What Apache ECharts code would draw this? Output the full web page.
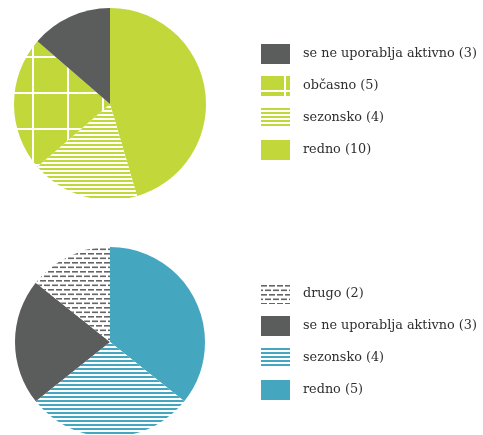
<!DOCTYPE html>
<html><head><meta charset="utf-8">
<script src="https://cdn.jsdelivr.net/npm/echarts@6/dist/echarts.min.js"></script>
<style>html,body{margin:0;padding:0;background:#fff}#c{width:483px;height:435px}</style>
</head><body><div id="c"></div>
<script>
// Top pie
const topNames = ['redno (10)', 'sezonsko (4)', 'občasno (5)', 'se ne uporablja aktivno (3)'];
const topValues = [10, 4, 5, 3];
const topLegendOrder = ['se ne uporablja aktivno (3)', 'občasno (5)', 'sezonsko (4)', 'redno (10)'];
// Bottom pie (zero-width space keeps names distinct from the top pie)
const ZW = '\u200b';
const botNames = ['redno (5)', 'sezonsko (4)' + ZW, 'se ne uporablja aktivno (3)' + ZW, 'drugo (2)'];
const botValues = [5, 4, 3, 2];
const botLegendOrder = ['drugo (2)', 'se ne uporablja aktivno (3)' + ZW, 'sezonsko (4)' + ZW, 'redno (5)'];

const GREEN = '#c1d73a', GRAY = '#5b5c5c', TEAL = '#45a6c0';

function mk(w, h, draw) {
  const c = document.createElement('canvas'); c.width = w; c.height = h;
  const ctx = c.getContext('2d'); draw(ctx); return c;
}
const gridPat = mk(35, 36, ctx => {
  ctx.fillStyle = GREEN; ctx.fillRect(0, 0, 35, 36);
  ctx.fillStyle = '#fff'; ctx.fillRect(32, 0, 2, 36); ctx.fillRect(0, 20, 35, 2);
});
const gridIcon = mk(29, 20, ctx => {
  ctx.fillStyle = GREEN; ctx.fillRect(0, 0, 29, 20);
  ctx.fillStyle = '#fff'; ctx.fillRect(23, 0, 2, 20); ctx.fillRect(0, 14, 29, 2);
});
const greenStripe = mk(4, 4, ctx => {
  ctx.fillStyle = GREEN; ctx.fillRect(0, 0, 4, 4);
  ctx.fillStyle = '#fff'; ctx.fillRect(0, 2, 4, 2);
});
const tealStripe = mk(4, 4, ctx => {
  ctx.fillStyle = '#fff'; ctx.fillRect(0, 0, 4, 4);
  ctx.fillStyle = TEAL; ctx.fillRect(0, 0, 4, 2);
});
const dashPat = mk(16, 9, ctx => {
  ctx.fillStyle = '#fff'; ctx.fillRect(0, 0, 16, 9);
  ctx.fillStyle = '#666';
  ctx.fillRect(0, 1, 6, 1.6); ctx.fillRect(8, 1, 6, 1.6);
  ctx.fillRect(4, 5.5, 6, 1.6); ctx.fillRect(12, 5.5, 4, 1.6); ctx.fillRect(0, 5.5, 2, 1.6);
});

const topColors = [GREEN, {image: greenStripe, repeat: 'repeat'}, {image: gridPat, repeat: 'repeat'}, GRAY];
const botColors = [TEAL, {image: tealStripe, repeat: 'repeat'}, GRAY, {image: dashPat, repeat: 'repeat'}];

const chart = echarts.init(document.getElementById('c'), null, {renderer: 'canvas'});
const legendCommon = {
  orient: 'vertical', left: 256, itemWidth: 29, itemHeight: 20, itemGap: 12,
  icon: 'rect', selectedMode: false,
  textStyle: {fontFamily: 'DejaVu Serif', fontSize: 12.8, color: '#2e2e2e', padding: [0, 0, 0, 8]}
};
chart.setOption({
  animation: false,
  legend: [
    Object.assign({}, legendCommon, {top: 39, data: topLegendOrder.map(n =>
      n === 'občasno (5)' ? {name: n, itemStyle: {color: {image: gridIcon, repeat: 'no-repeat'}}} : n)}),
    Object.assign({}, legendCommon, {top: 279, data: botLegendOrder})
  ],
  series: [
    {
      type: 'pie', center: [110, 104], radius: 96, startAngle: 90, clockwise: true,
      label: {show: false}, labelLine: {show: false}, silent: true,
      data: topNames.map((n, i) => ({name: n, value: topValues[i], itemStyle: {color: topColors[i]}}))
    },
    {
      type: 'pie', center: [110, 342], radius: 95, startAngle: 90, clockwise: true,
      label: {show: false}, labelLine: {show: false}, silent: true,
      data: botNames.map((n, i) => ({name: n, value: botValues[i], itemStyle: {color: botColors[i]}}))
    }
  ]
});
</script></body></html>
